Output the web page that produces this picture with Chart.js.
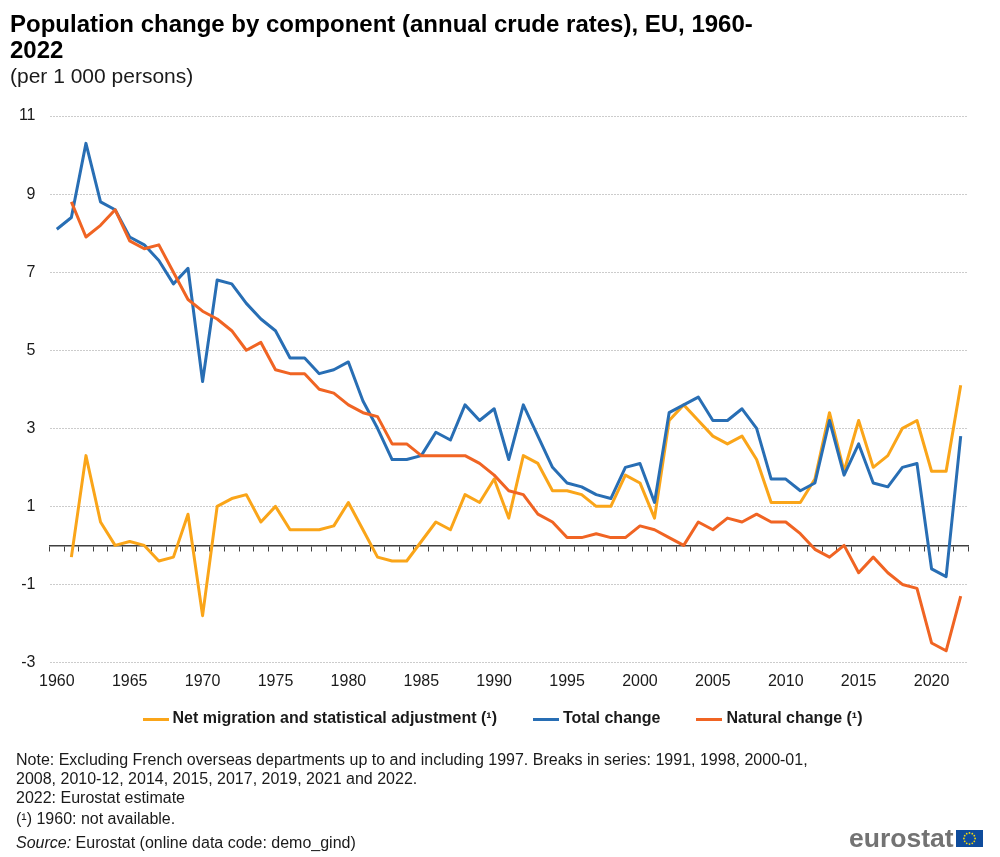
<!DOCTYPE html>
<html><head><meta charset="utf-8">
<script src="https://cdn.jsdelivr.net/npm/chart.js@4"></script>
<style>
html,body{margin:0;padding:0;background:#fff;overflow:hidden}
#wrap{position:relative;width:1000px;height:857px;font-family:"Liberation Sans",Arial,sans-serif;color:#1a1a1a}
canvas{position:absolute;left:0;top:0}
.note{position:absolute;left:16px;font-size:16px;line-height:17px;white-space:nowrap}
#logo{position:absolute;left:849px;top:824px;font:bold 26.5px "Liberation Sans",Arial,sans-serif;color:#737373;line-height:28px}
#flag{position:absolute;left:956px;top:830px}
</style></head><body>
<div id="wrap">
<canvas id="c" width="1000" height="857"></canvas>
<div class="note" style="top:751px">Note: Excluding French overseas departments up to and including 1997. Breaks in series: 1991, 1998, 2000-01,</div>
<div class="note" style="top:770px">2008, 2010-12, 2014, 2015, 2017, 2019, 2021 and 2022.</div>
<div class="note" style="top:789px">2022: Eurostat estimate</div>
<div class="note" style="top:810px">(¹) 1960: not available.</div>
<div class="note" style="top:834px"><i>Source:</i> Eurostat (online data code: demo_gind)</div>
<div id="logo">eurostat</div>
<svg id="flag" width="27" height="17" viewBox="0 0 27 17"><rect width="27" height="17" fill="#0f4c9c"/><g fill="#f5d90a"><circle cx="13.5" cy="2.9" r="0.9"/><circle cx="16.3" cy="3.7" r="0.9"/><circle cx="18.3" cy="5.7" r="0.9"/><circle cx="19.1" cy="8.5" r="0.9"/><circle cx="18.3" cy="11.3" r="0.9"/><circle cx="16.3" cy="13.3" r="0.9"/><circle cx="13.5" cy="14.1" r="0.9"/><circle cx="10.7" cy="13.3" r="0.9"/><circle cx="8.7" cy="11.3" r="0.9"/><circle cx="7.9" cy="8.5" r="0.9"/><circle cx="8.7" cy="5.7" r="0.9"/><circle cx="10.7" cy="3.7" r="0.9"/></g></svg>
</div>
<script>
const years = [];
for (let y = 1960; y <= 2022; y++) years.push(String(y));
const netMigration = [null,-0.3,2.3,0.6,0.0,0.1,0.0,-0.4,-0.3,0.8,-1.8,1.0,1.2,1.3,0.6,1.0,0.4,0.4,0.4,0.5,1.1,0.4,-0.3,-0.4,-0.4,0.1,0.6,0.4,1.3,1.1,1.7,0.7,2.3,2.1,1.4,1.4,1.3,1.0,1.0,1.8,1.6,0.7,3.2,3.6,3.2,2.8,2.6,2.8,2.2,1.1,1.1,1.1,1.7,3.4,1.9,3.2,2.0,2.3,3.0,3.2,1.9,1.9,4.1];
const totalChange = [8.1,8.4,10.3,8.8,8.6,7.9,7.7,7.3,6.7,7.1,4.2,6.8,6.7,6.2,5.8,5.5,4.8,4.8,4.4,4.5,4.7,3.7,3.0,2.2,2.2,2.3,2.9,2.7,3.6,3.2,3.5,2.2,3.6,2.8,2.0,1.6,1.5,1.3,1.2,2.0,2.1,1.1,3.4,3.6,3.8,3.2,3.2,3.5,3.0,1.7,1.7,1.4,1.6,3.2,1.8,2.6,1.6,1.5,2.0,2.1,-0.6,-0.8,2.8];
const naturalChange = [null,8.8,7.9,8.2,8.6,7.8,7.6,7.7,7.0,6.3,6.0,5.8,5.5,5.0,5.2,4.5,4.4,4.4,4.0,3.9,3.6,3.4,3.3,2.6,2.6,2.3,2.3,2.3,2.3,2.1,1.8,1.4,1.3,0.8,0.6,0.2,0.2,0.3,0.2,0.2,0.5,0.4,0.2,0.0,0.6,0.4,0.7,0.6,0.8,0.6,0.6,0.3,-0.1,-0.3,0.0,-0.7,-0.3,-0.7,-1.0,-1.1,-2.5,-2.7,-1.3];
const titleLines = ["Population change by component (annual crude rates), EU, 1960-","2022"];
const subtitleText = "(per 1 000 persons)";
const font = '"Liberation Sans", Arial, sans-serif';
function legendSwatch(color) {
  const c = document.createElement('canvas');
  c.width = 26; c.height = 3;
  const g = c.getContext('2d');
  g.fillStyle = color; g.fillRect(0, 0, 26, 3);
  return c;
}
const line = (label, data, color, order) => ({label, data, order, borderColor: color, backgroundColor: color, borderWidth: 3, pointRadius: 0, pointStyle: legendSwatch(color), tension: 0, spanGaps: false, fill: false, borderJoinStyle: 'round', borderCapStyle: 'butt'});
const legendShift = {id: 'legendShift', afterLayout(chart) { const l = chart.legend; l.left += 15.5; l.right += 15.5; l.top -= 19.5; l.bottom -= 19.5; }};
new Chart(document.getElementById('c'), {
  type: 'line',
  plugins: [legendShift],
  data: {labels: years, datasets: [
    line('Net migration and statistical adjustment (¹)', netMigration, '#faa519', 3),
    line('Total change', totalChange, '#286eb4', 2),
    line('Natural change (¹)', naturalChange, '#f06423', 1)
  ]},
  options: {
    responsive: false, animation: false,
    layout: {padding: {left: 10, right: 32, top: 12, bottom: 100.5}},
    plugins: {
      title: {display: true, text: titleLines, align: 'start', color: '#000', font: {family: font, size: 24, weight: 'bold', lineHeight: 1.08}, padding: {top: 0, bottom: 0}},
      subtitle: {display: true, text: subtitleText, align: 'start', color: '#1a1a1a', font: {family: font, size: 21}, padding: {top: 1, bottom: 26}},
      legend: {position: 'bottom', labels: {usePointStyle: true, pointStyleWidth: 18, boxHeight: 14, padding: 40, color: '#1a1a1a', font: {family: font, size: 16, weight: 'bold'}, sort: (a, b) => a.datasetIndex - b.datasetIndex}},
      tooltip: {enabled: false}
    },
    scales: {
      y: {min: -3, max: 11,
        afterFit: s => { s.width = 39.5; },
        border: {display: false, dash: [2, 1]},
        grid: {color: '#cccccc', lineWidth: 1, drawTicks: false, tickLength: 0},
        ticks: {stepSize: 2, padding: 14, color: '#1a1a1a', font: {family: font, size: 16}}
      },
      x: {position: {y: 0}, offset: true,
        border: {display: true, color: '#404040', width: 1.5},
        grid: {display: true, offset: true, drawOnChartArea: false, drawTicks: true, tickLength: 5, color: '#404040'},
        ticks: {display: false, autoSkip: false}
      },
      xLabels: {type: 'category', axis: 'x', position: 'bottom', offset: true, labels: years,
        afterFit: s => { s.height = 28; },
        border: {display: false},
        grid: {display: false, drawTicks: false},
        ticks: {autoSkip: false, maxRotation: 0, minRotation: 0, padding: 9, color: '#1a1a1a', font: {family: font, size: 16},
          callback(v, i) { return i % 5 === 0 ? this.getLabelForValue(v) : ''; }}
      }
    }
  }
});
</script>
</body></html>
